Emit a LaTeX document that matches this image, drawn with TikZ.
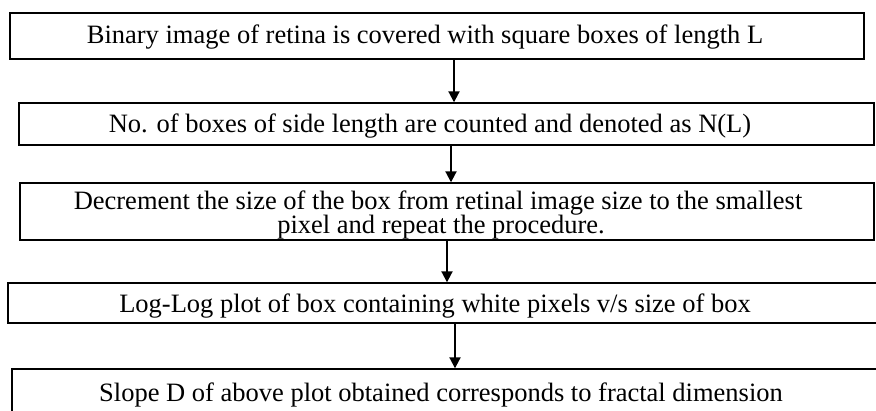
\documentclass[tikz,border=0pt]{standalone}
\usepackage{fontspec}
\setmainfont{Liberation Serif}
\usetikzlibrary{arrows.meta}
\begin{document}
\begin{tikzpicture}[x=1pt,y=-1pt,
  boxnode/.style={draw=black, line width=1.4pt, inner sep=0pt, rectangle},
  txt/.style={inner sep=0pt, font=\fontsize{26.5pt}{21pt}\selectfont},
  flow/.style={line width=2pt, -{Triangle[width=11pt,length=11pt]}}]
\useasboundingbox (0,0) rectangle (876,410);
\clip (0,0) rectangle (876,410);
\node[boxnode, minimum width=854pt, minimum height=46pt] (b1) at (437,36) {};
\node[boxnode, minimum width=855pt, minimum height=42pt] (b2) at (446.5,124) {};
\node[boxnode, minimum width=854pt, minimum height=57pt] (b3) at (447,211.5) {};
\node[boxnode, minimum width=882pt, minimum height=40pt] (b4) at (449,303) {};
\node[boxnode, minimum width=878pt, minimum height=61pt] (b5) at (451,399.5) {};
\node[txt] (t1) at (425,37) {Binary image of retina is covered with square boxes of length L};
\node[txt] (t2) at (430,126) {No. of boxes of side length are counted and denoted as N(L)};
\node[txt, anchor=base, text height=17pt, text depth=2pt] (t3a) at (438,209) {Decrement the size of the box from retinal image size to the smallest};
\node[txt, anchor=base, text height=13pt, text depth=5pt] (t3b) at (441,233) {pixel and repeat the procedure.};
\node[txt] (t4) at (435,306) {Log-Log plot of box containing white pixels v/s size of box};
\node[txt] (t5) at (441,395) {Slope D of above plot obtained corresponds to fractal dimension};
\coordinate (x1) at (454,0);
\coordinate (x2) at (451,0);
\coordinate (x3) at (447,0);
\coordinate (x4) at (455,0);
\draw[flow] (b1.south -| x1) -- (b2.north -| x1);
\draw[flow] (b2.south -| x2) -- (b3.north -| x2);
\draw[flow] (b3.south -| x3) -- (b4.north -| x3);
\draw[flow] (b4.south -| x4) -- (b5.north -| x4);
\end{tikzpicture}
\end{document}
